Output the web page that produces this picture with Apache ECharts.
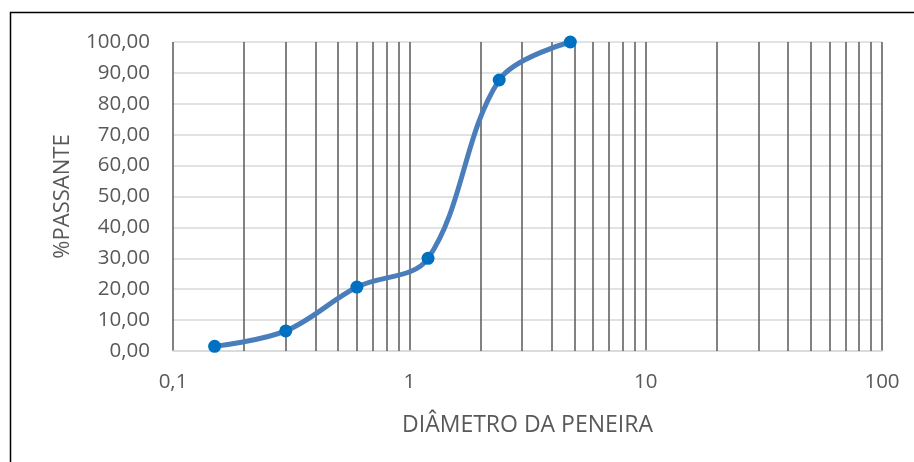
<!DOCTYPE html>
<html>
<head>
<meta charset="utf-8">
<script src="https://cdn.jsdelivr.net/npm/echarts@6/dist/echarts.min.js"></script>
<style>
  html, body { margin: 0; padding: 0; background: #fff; }
  #chart { width: 914px; height: 462px; }
</style>
</head>
<body>
<div id="chart"></div>
<script>
// Sieve opening (mm) and cumulative percent passing
const sieveSizes = [0.15, 0.3, 0.6, 1.2, 2.4, 4.8];
const percentPassing = [1.5, 6.5, 20.7, 30.0, 87.7, 100.0];

// Intermediate log-grid lines between decades
const logGridValues = [
  0.2, 0.3, 0.4, 0.5, 0.6, 0.7, 0.8, 0.9,
  2, 3, 4, 5, 6, 7, 8, 9,
  20, 30, 40, 50, 60, 70, 80, 90
];

const xAxisTitle = 'DIÂMETRO DA PENEIRA';
const yAxisTitle = '%PASSANTE';

const FONT = '"Open Sans", "Noto Sans", sans-serif';
const TEXT_COLOR = '#595959';
const DARK_GRID = '#595959';

const chart = echarts.init(document.getElementById('chart'), null, { renderer: 'canvas' });

chart.setOption({
  animation: false,
  backgroundColor: '#fff',
  textStyle: { fontFamily: FONT },
  graphic: [{
    type: 'rect',
    shape: { x: 10.5, y: 12.5, width: 1000, height: 1000 },
    style: { fill: 'none', stroke: '#000', lineWidth: 1.5 },
    silent: true,
    z: 100
  }],
  grid: { left: 173, right: 32, top: 42, bottom: 111 },
  xAxis: {
    type: 'log',
    logBase: 10,
    min: 0.1,
    max: 100,
    name: xAxisTitle,
    nameLocation: 'middle',
    nameGap: 63,
    nameTextStyle: { color: TEXT_COLOR, fontSize: 23, fontFamily: FONT },
    axisLine: { show: true, lineStyle: { color: '#d9d9d9', width: 1.5 } },
    axisTick: { show: false },
    axisLabel: {
      color: TEXT_COLOR,
      fontSize: 20.5,
      fontFamily: FONT,
      margin: 21,
      formatter: v => String(Math.round(v * 10) / 10).replace('.', ',')
    },
    splitLine: { show: true, lineStyle: { color: DARK_GRID, width: 1.5 } },
    minorSplitLine: { show: false }
  },
  yAxis: {
    type: 'value',
    min: 0,
    max: 100,
    interval: 10,
    name: yAxisTitle,
    nameLocation: 'middle',
    nameGap: 99,
    nameRotate: 90,
    nameTextStyle: { color: TEXT_COLOR, fontSize: 22, fontFamily: FONT },
    axisLine: { show: false },
    axisTick: { show: false },
    axisLabel: {
      color: TEXT_COLOR,
      fontSize: 20.5,
      fontFamily: FONT,
      margin: 23,
      formatter: v => v.toFixed(2).replace('.', ',')
    },
    splitLine: { show: true, lineStyle: { color: '#d9d9d9', width: 1.5 } }
  },
  series: [{
    type: 'line',
    data: sieveSizes.map((d, i) => [d, percentPassing[i]]),
    smooth: 0.35,
    symbol: 'circle',
    symbolSize: 13,
    itemStyle: { color: '#0070c0' },
    lineStyle: { color: '#4a7ebb', width: 5 },
    z: 10,
    markLine: {
      silent: true,
      symbol: ['none', 'none'],
      label: { show: false },
      animation: false,
      lineStyle: { color: DARK_GRID, width: 1.5, type: 'solid' },
      data: logGridValues.map(v => ({ xAxis: v }))
    }
  }]
});
</script>
</body>
</html>
